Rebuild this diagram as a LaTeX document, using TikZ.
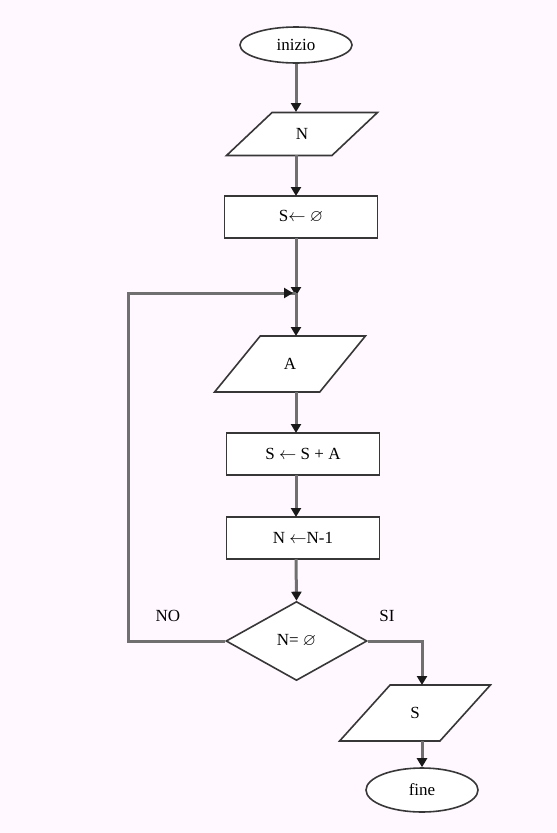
\documentclass[tikz,border=0pt]{standalone}
\usepackage{fontspec}
\setmainfont{Liberation Serif}
\usepackage{amssymb}
\usetikzlibrary{shapes.geometric,arrows.meta}
\definecolor{bgpink}{RGB}{255,248,255}
\definecolor{linegray}{RGB}{112,112,112}
\definecolor{edgegray}{RGB}{55,55,55}
\tikzset{
  every node/.style={font=\fontsize{17}{20}\selectfont},
  term/.style={ellipse,draw=edgegray,line width=1.6pt,fill=white,minimum width=112pt,minimum height=36pt,inner sep=0pt},
  iobox/.style={trapezium,trapezium left angle=50,trapezium right angle=130,trapezium stretches=true,
    draw=edgegray,line width=1.6pt,fill=white,minimum width=151pt,inner sep=0pt},
  opbox/.style={rectangle,draw=edgegray,line width=1.6pt,fill=white,minimum width=153pt,minimum height=42pt},
  testbox/.style={diamond,aspect=1.8,draw=edgegray,line width=1.6pt,fill=white,minimum width=141pt,minimum height=79pt,inner sep=0pt},
  flow/.style={draw=linegray,line width=3pt,-{Triangle[width=10pt,length=9pt,color=black!90]}},
  loopline/.style={draw=linegray,line width=3pt}
}
\begin{document}
\begin{tikzpicture}[x=1pt,y=-1pt]
        \fill[bgpink] (0,0) rectangle (557,833);
        \useasboundingbox (0,0) rectangle (557,833);
        \node[term] (inizio) at (296,45) {inizio};
        \node[iobox,minimum height=43pt] (inN) at (302,134) {N};
        \node[opbox] (azzera) at (301,217) {S$\leftarrow$ $\varnothing$};
        \coordinate (join) at (296,293);
        \node[iobox,minimum height=56pt] (inA) at (290,364) {A};
        \node[opbox] (somma) at (303,454) {S $\leftarrow$ S + A};
        \node[opbox] (decr) at (303,538) {N $\leftarrow$N-1};
        \node[testbox] (test) at (296.5,641) {N= $\varnothing$};
        \node[iobox,minimum height=56pt] (outS) at (415,713) {S};
        \node[term,minimum height=44pt] (fine) at (422,790) {fine};
        \node (no) at (168,616) {NO};
        \node (si) at (387,616) {SI};
        \draw[flow] (inizio) -- (296,112);
        \draw[flow] (296,155) -- (296,196);
        \draw[flow] (296,238) -- ([yshift=-3pt]join);
        \draw[loopline] (test.west) -- (128,641) -- (128,293) -- (join);
        \draw[flow] (128,293) -- ([xshift=-3pt]join);
        \draw[flow] (join) -- (296,336);
        \draw[flow] (296,392) -- (296,433);
        \draw[flow] (296,475) -- (296,517);
        \draw[flow] (296,559) -- (test.north);
        \draw[flow] (test.east) -| (422,685);
        \draw[flow] (422,741) -- (fine.north);
      \end{tikzpicture}
\end{document}
